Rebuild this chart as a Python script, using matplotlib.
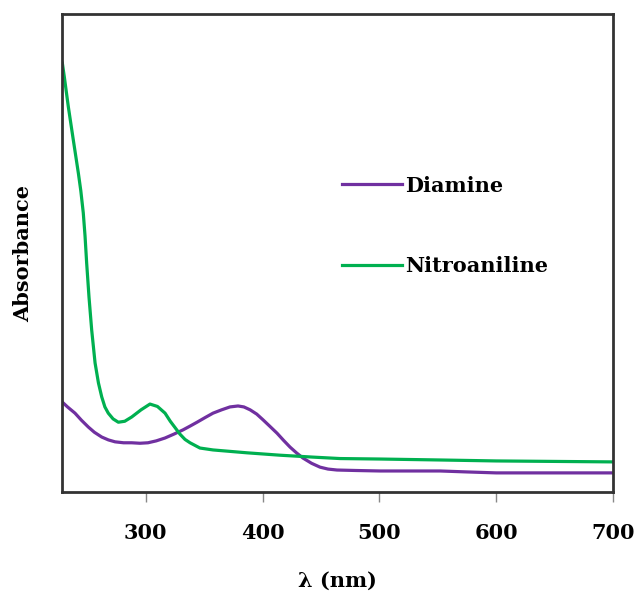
import matplotlib
matplotlib.use("Agg")
import matplotlib.pyplot as plt

# Wavelength (nm) and absorbance (arbitrary units)
diamine_wl = [228.6, 233, 239.4, 245, 250.8, 256, 262.3, 268, 273.7, 281, 288.0, 295,
              301.9, 309, 316.5, 324, 331.9, 338, 343.9, 351, 357.6, 365, 372.1, 379.0,
              384, 389.3, 395, 400.4, 406, 412.4, 418, 423.5, 429, 434.6, 442, 449.2,
              456, 463.7, 480, 500.6, 525, 552, 575, 600, 650, 700]
diamine_abs = [0.188, 0.178, 0.165, 0.150, 0.136, 0.125, 0.115, 0.109, 0.105, 0.103, 0.103,
               0.102, 0.103, 0.107, 0.113, 0.121, 0.130, 0.138, 0.146, 0.156, 0.165, 0.172,
               0.178, 0.180, 0.178, 0.172, 0.163, 0.151, 0.138, 0.123, 0.108, 0.094, 0.082,
               0.071, 0.060, 0.052, 0.048, 0.046, 0.045, 0.044, 0.044, 0.044, 0.042, 0.040,
               0.040, 0.040]

nitro_wl = [228.6, 230.3, 233.7, 238.0, 242.3, 244.4, 246.5, 248.0, 249.4, 251.4, 253.7,
            256.6, 259.5, 262.3, 265, 267.9, 272, 276.5, 282, 288.0, 296, 303.6, 310,
            316.5, 321, 325.0, 329.3, 333.6, 337.9, 346.4, 357.6, 386.7, 414.9, 443.2,
            466.3, 500.6, 552, 600, 650, 700]
nitro_abs = [0.897, 0.868, 0.806, 0.736, 0.667, 0.630, 0.584, 0.536, 0.479, 0.408, 0.339,
             0.270, 0.228, 0.199, 0.178, 0.165, 0.153, 0.146, 0.148, 0.157, 0.172, 0.184,
             0.179, 0.165, 0.148, 0.135, 0.121, 0.110, 0.103, 0.092, 0.088, 0.082, 0.077,
             0.073, 0.070, 0.069, 0.067, 0.065, 0.064, 0.063]

series_labels = ["Diamine", "Nitroaniline"]
x_ticks = [300, 400, 500, 600, 700]

fig = plt.figure(figsize=(6.38, 5.94), dpi=100)
ax = fig.add_axes([0.0972, 0.1717, 0.8636, 0.8047])

ax.plot(diamine_wl, diamine_abs, color="#7030A0", lw=2.3, label=series_labels[0])
ax.plot(nitro_wl, nitro_abs, color="#00B050", lw=2.3, label=series_labels[1])

ax.set_xlim(228.3, 700)
ax.set_ylim(0, 1.0)
ax.set_xticks(x_ticks)
ax.set_xticklabels([str(t) for t in x_ticks])
ax.set_yticks([])

font = dict(family="DejaVu Serif", weight="bold")
for lab in ax.get_xticklabels():
    lab.set_fontfamily("DejaVu Serif")
    lab.set_fontweight("bold")
    lab.set_fontsize(15)
ax.tick_params(axis="x", direction="out", length=7, width=1, color="#888888", pad=15)

for s in ax.spines.values():
    s.set_linewidth(2)
    s.set_color("#333333")

ax.set_xlabel("λ (nm)", fontsize=15, labelpad=20, **font)
ax.set_ylabel("Absorbance", fontsize=15, labelpad=21, **font)

leg = ax.legend(loc="upper left", bbox_to_anchor=(0.508, 0.662), frameon=False,
                prop=dict(family="DejaVu Serif", weight="bold", size=15),
                handlelength=2.9, handletextpad=0.15, labelspacing=2.9,
                borderpad=0, borderaxespad=0)

fig.savefig("out.png", dpi=100)
